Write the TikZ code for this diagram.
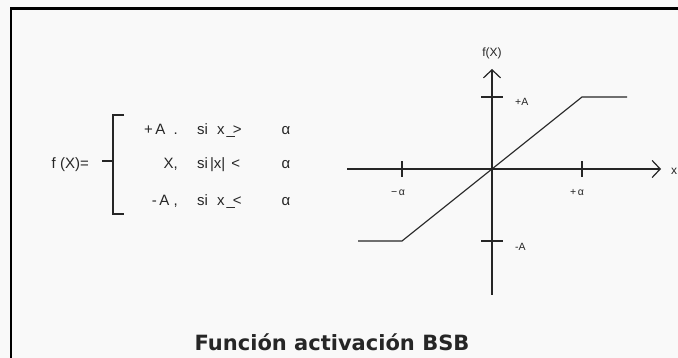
\documentclass[tikz,border=0pt]{standalone}
\usepackage{fontspec}
\setmainfont{Liberation Sans}
\newfontfamily\titlefont{DejaVu Sans}
\usetikzlibrary{positioning,arrows.meta}

\definecolor{paper}{gray}{0.975}
\definecolor{ink}{gray}{0.15}

\begin{document}
\begin{tikzpicture}[x=1pt,y=-1pt,
  txt/.style={inner sep=0pt,text=ink,font=\fontsize{15}{18}\selectfont},
  lbl/.style={inner sep=0pt,text=ink,font=\fontsize{10.5}{12}\selectfont},
  axis/.style={line width=1.4pt,draw=ink},
  tick/.style={line width=1.5pt,draw=ink},
  curve/.style={line width=1.1pt,draw=ink},
  opentip/.style={-{Straight Barb[length=8pt,width=17pt,line width=1.2pt]}}]
\fill[paper] (0,0) rectangle (678,358);
\useasboundingbox (0,0) rectangle (678,358);
% frame
\draw[line width=2.6pt] (11,358) -- (11,8.5) -- (678,8.5);

% formula
\node[txt,anchor=base east] (fx) at (89,169) {f (X)=};
\coordinate (bt) at (113,115);
\coordinate (bb) at (113,214);
\draw[line width=1.3pt,draw=ink] ([xshift=11pt]bt) -- (bt) -- (bb) -- ([xshift=11pt]bb);
\draw[line width=1.3pt,draw=ink] (102,161) -- (113,161);
\node[txt,anchor=base east] (c1) at (178,135) {+\,A\ \ .};
\node[txt,anchor=base east] (c2) at (178,169) {X,};
\node[txt,anchor=base east] (c3) at (178,206) {-\,A\ ,};
\node[txt,anchor=base west] (s1) at (197,135) {si\hspace{9pt}x\hspace{2pt}\_\hspace{-2pt}>};
\node[txt,anchor=base west] (s2) at (197,169) {si\hspace{2pt}|x|\hspace{6pt}<};
\node[txt,anchor=base west] (s3) at (197,206) {si\hspace{9pt}x\hspace{2pt}\_\hspace{-2pt}<};
\node[txt,anchor=base] (a1) at (286,135) {α};
\node[txt,anchor=base] (a2) at (286,169) {α};
\node[txt,anchor=base] (a3) at (286,206) {α};

% graph
\coordinate (O) at (492,169);
\coordinate (xl) at (347,169);
\coordinate (xr) at (661,169);
\coordinate (yt) at (492,69);
\coordinate (yb) at (492,295);
\coordinate (ma) at (402,169);
\coordinate (pa) at (582,169);
\coordinate (pA) at (492,97);
\coordinate (mA) at (492,241);
\draw[axis,opentip] (xl) -- (xr);
\draw[axis,opentip] (yb) -- (yt);
\draw[tick] ([yshift=-8pt]ma) -- ([yshift=8pt]ma);
\draw[tick] ([yshift=-8pt]pa) -- ([yshift=8pt]pa);
\draw[tick] ([xshift=-11pt]pA) -- ([xshift=11pt]pA);
\draw[tick] ([xshift=-11pt]mA) -- ([xshift=11pt]mA);
\draw[curve] (358,241) -- (ma |- mA) -- (pa |- pA) -- (627,97);
\node[lbl,font=\fontsize{12}{14}\selectfont] (fX) at (492,53) {f(X)};
\node[lbl,anchor=west] (lpA) at (515,102) {+A};
\node[lbl,anchor=west] (lmA) at (515,247) {-A};
\node[lbl] (lma) at (398,193) {−\,α};
\node[lbl] (lpa) at (577,193) {+\,α};
\node[lbl,anchor=west,font=\fontsize{12}{14}\selectfont] (lx) at (671,171) {x};

% caption
\node[inner sep=0pt,anchor=base,text=ink,font=\titlefont\bfseries\fontsize{21}{25}\selectfont] (title) at (332,350) {Función activación BSB};
\end{tikzpicture}
\end{document}
